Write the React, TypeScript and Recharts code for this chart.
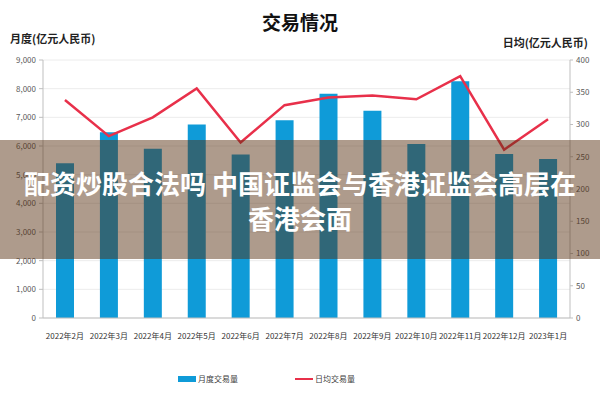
import React from 'react';
import {
  ComposedChart,
  Bar,
  Line,
  XAxis,
  YAxis,
  CartesianGrid,
  Legend
} from 'recharts';

const months = [
  '2022年2月', '2022年3月', '2022年4月', '2022年5月', '2022年6月', '2022年7月',
  '2022年8月', '2022年9月', '2022年10月', '2022年11月', '2022年12月', '2023年1月'
];
const monthlyVolume = [5400, 6480, 5900, 6750, 5700, 6900, 7820, 7230, 6070, 8260, 5720, 5550];
const dailyAverage = [338, 282, 311, 356, 272, 330, 342, 345, 339, 375, 261, 308];
const leftTicks = [0, 1000, 2000, 3000, 4000, 5000, 6000, 7000, 8000, 9000];
const rightTicks = [0, 50, 100, 150, 200, 250, 300, 350, 400];

const data = months.map((m, i) => ({ name: m, monthly: monthlyVolume[i], daily: dailyAverage[i] }));

const FONT = '"Noto Sans CJK SC", "Noto Sans", sans-serif';
const BLUE = '#0f9bd8';
const RED = '#e8304a';

const LegendBox = () => (
  <div style={{ position: 'relative', width: 600, height: 24, fontFamily: FONT, fontSize: 8, color: '#404040' }}>
    <div style={{ position: 'absolute', left: 178, top: 9, width: 18, height: 6, background: BLUE }} />
    <div style={{ position: 'absolute', left: 198, top: 6, lineHeight: '12px' }}>月度交易量</div>
    <div style={{ position: 'absolute', left: 295, top: 11, width: 18, height: 2, background: RED }} />
    <div style={{ position: 'absolute', left: 315, top: 6, lineHeight: '12px' }}>日均交易量</div>
  </div>
);

export default function App() {
  return (
    <div style={{ position: 'fixed', left: 0, top: 0, width: 600, height: 400, background: '#fff', fontFamily: FONT }}>
      <ComposedChart
        width={600}
        height={400}
        data={data}
        margin={{ top: 60, right: 0, left: 0, bottom: 9 }}
        style={{ fontFamily: FONT }}
      >
        <CartesianGrid yAxisId="left" vertical={false} stroke="#ececec" />
        <XAxis
          dataKey="name"
          height={49}
          interval={0}
          tickLine={false}
          tickSize={4}
          tickMargin={11}
          axisLine={{ stroke: '#bfbfbf' }}
          tick={{ fontSize: 8, fill: '#333' }}
        />
        <YAxis
          yAxisId="left"
          width={43}
          domain={[0, 9000]}
          ticks={leftTicks}
          tickSize={4}
          tickMargin={3}
          axisLine={{ stroke: '#bfbfbf' }}
          tickLine={{ stroke: '#bfbfbf' }}
          tick={{ fontSize: 8, fill: '#595959' }}
          tickFormatter={(v: number) => v.toLocaleString('en-US')}
        />
        <YAxis
          yAxisId="right"
          orientation="right"
          width={30}
          domain={[0, 400]}
          ticks={rightTicks}
          tickSize={3}
          tickMargin={3}
          axisLine={{ stroke: '#bfbfbf' }}
          tickLine={{ stroke: '#bfbfbf' }}
          tick={{ fontSize: 8, fill: '#595959' }}
        />
        <Legend verticalAlign="bottom" wrapperStyle={{ left: 0, width: 600 }} content={() => <LegendBox />} />
        <Bar yAxisId="left" dataKey="monthly" fill={BLUE} barSize={18} isAnimationActive={false} />
        <Line
          yAxisId="right"
          dataKey="daily"
          type="linear"
          stroke={RED}
          strokeWidth={2.5}
          dot={false}
          activeDot={false}
          isAnimationActive={false}
        />
      </ComposedChart>

      <div style={{ position: 'absolute', left: 0, top: 8, width: 600, textAlign: 'center', fontSize: 19, fontWeight: 700, color: '#111', lineHeight: '28px' }}>
        交易情况
      </div>
      <div style={{ position: 'absolute', left: 10, top: 30, fontSize: 11, fontWeight: 700, color: '#222', lineHeight: '16px' }}>
        月度(亿元人民币)
      </div>
      <div style={{ position: 'absolute', right: 12, top: 34, fontSize: 11, fontWeight: 700, color: '#222', lineHeight: '16px' }}>
        日均(亿元人民币)
      </div>

      <div
        style={{
          position: 'absolute',
          left: 0,
          top: 140,
          width: 600,
          height: 119,
          background: 'rgba(85, 45, 15, 0.48)',
          color: '#fff',
          fontSize: 26,
          fontWeight: 700,
          textAlign: 'center',
          lineHeight: '35px',
          paddingTop: 25,
          boxSizing: 'border-box'
        }}
      >
        配资炒股合法吗 中国证监会与香港证监会高层在
        <br />
        香港会面
      </div>
    </div>
  );
}
